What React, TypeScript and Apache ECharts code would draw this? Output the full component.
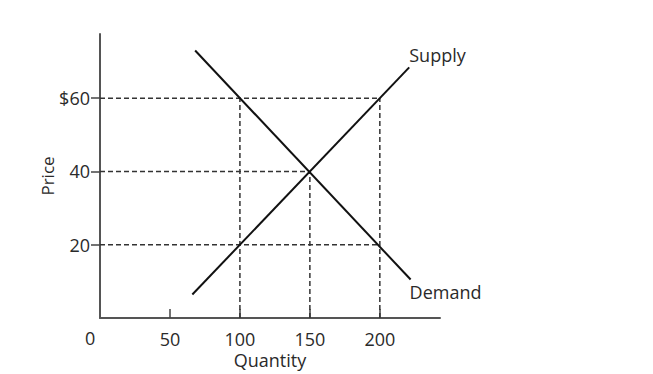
import React, { useEffect, useRef } from "react";
import * as echarts from "echarts";

const supplyPoints: [number, number][] = [[66, 6.4], [221, 68.4]];
const demandPoints: [number, number][] = [[68, 73], [222, 10.5]];
const guideLines: [number, number][][] = [
  [[0, 60], [200, 60]],
  [[0, 40], [150, 40]],
  [[0, 20], [200, 20]],
  [[100, 0], [100, 60]],
  [[150, 0], [150, 40]],
  [[200, 0], [200, 60]],
];
const xTicks = [50, 100, 150, 200];
const yTicks = [20, 40, 60];

export default function App() {
  const ref = useRef<HTMLDivElement>(null);
  useEffect(() => {
    if (!ref.current) return;
    const chart = echarts.init(ref.current, null, { renderer: "svg" });
    const font = "'Open Sans', sans-serif";
    const txt = "#2a2a2a";
    const guideSeries = guideLines.map((d) => ({
      type: "line",
      data: d,
      symbol: "none",
      silent: true,
      lineStyle: { color: "#333", width: 1.5, type: [5, 3] },
      z: 1,
    }));
    chart.setOption({
      animation: false,
      backgroundColor: "#fff",
      grid: { left: 100, top: 34, width: 340, height: 288 },
      xAxis: {
        type: "value",
        min: 0,
        max: 243,
        interval: 50,
        splitLine: { show: false },
        axisLine: { onZero: false, lineStyle: { color: "#555", width: 2 } },
        axisTick: { show: true, inside: true, length: 9, customValues: xTicks, lineStyle: { color: "#444", width: 1.5 } },
        axisLabel: { customValues: xTicks, color: txt, fontSize: 18, fontFamily: font, margin: 12 },
        name: "Quantity",
        nameLocation: "middle",
        nameGap: 33,
        nameMoveOverlap: false,
        nameTextStyle: { color: txt, fontSize: 18, fontFamily: font },
      },
      yAxis: {
        type: "value",
        min: 0,
        max: 77.5,
        interval: 20,
        splitLine: { show: false },
        axisLine: { onZero: false, lineStyle: { color: "#555", width: 2 } },
        axisTick: { show: true, length: 9, customValues: yTicks, lineStyle: { color: "#444", width: 1.5 } },
        axisLabel: {
          customValues: yTicks,
          color: txt,
          fontSize: 18,
          fontFamily: font,
          margin: 10,
          formatter: (v: number) => (v === 60 ? "$60" : String(v)),
        },
        name: "Price",
        nameLocation: "middle",
        nameGap: 44,
        nameRotate: 90,
        nameMoveOverlap: false,
        nameTextStyle: { color: txt, fontSize: 17, fontFamily: font },
      },
      graphic: [
        { type: "text", left: 85, top: 329, style: { text: "0", fontSize: 18, fontFamily: font, fill: txt } },
      ],
      series: [
        ...guideSeries,
        {
          type: "line",
          data: supplyPoints,
          symbol: "none",
          lineStyle: { color: "#111", width: 2 },
          z: 3,
          endLabel: { show: true, formatter: "Supply", color: txt, fontSize: 18, fontFamily: font, offset: [-8, -12] },
        },
        {
          type: "line",
          data: demandPoints,
          symbol: "none",
          lineStyle: { color: "#111", width: 2 },
          z: 3,
          endLabel: { show: true, formatter: "Demand", color: txt, fontSize: 18, fontFamily: font, offset: [-9, 12] },
        },
      ],
    });
    return () => chart.dispose();
  }, []);
  return <div ref={ref} style={{ position: "absolute", left: 0, top: 0, width: 653, height: 374 }} />;
}
